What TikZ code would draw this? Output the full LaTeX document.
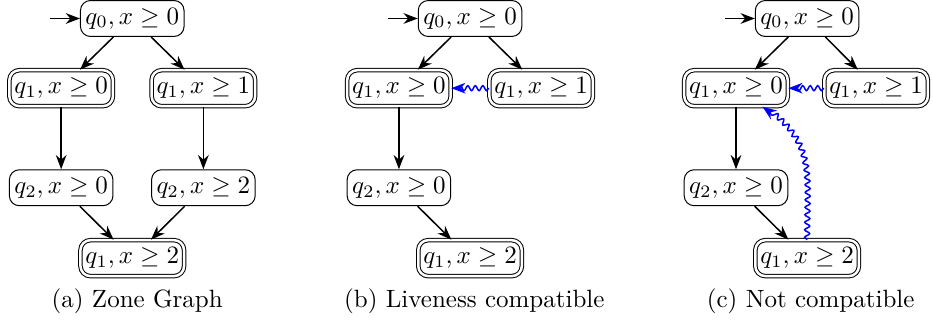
\documentclass[tikz,border=0pt]{standalone}
\usepackage{amsmath}
\usepackage{amssymb}
\usepackage{tikz}
\usetikzlibrary{arrows.meta,positioning,decorations.pathmorphing}

\begin{document}
\begin{tikzpicture}[
    state/.style={draw,rounded corners=4pt,inner xsep=2pt,inner ysep=3pt},
    final/.style={state,double,double distance=1pt},
    edge/.style={->,semithick},
    sim/.style={->,semithick,blue,decorate,decoration={snake,amplitude=1pt,segment length=3pt,post length=2.5pt}},
    >=Stealth,
]
    \useasboundingbox (0,0) rectangle (13.12,-4.53);

    % (a) zone graph
    \begin{scope}[xshift=1.86cm]
        \node[state] (a0) at (0,-0.26) {$q_0, x \geq 0$};
        \node[final] (a1) at (-1,-1.24) {$q_1, x \geq 0$};
        \node[final] (a2) at (1,-1.24) {$q_1, x \geq 1$};
        \node[state] (a3) at (-1,-2.64) {$q_2, x \geq 0$};
        \node[state] (a4) at (1,-2.64) {$q_2, x \geq 2$};
        \node[final] (a5) at (0,-3.63) {$q_1, x \geq 2$};
        \coordinate[left=12pt of a0] (ain);
        \node (acap) at (0.07,-4.23) {(a) Zone Graph};

        \draw[edge] (ain) -- (a0);
        \draw[edge] (a0) -- (a1);
        \draw[edge] (a0) -- (a2);
        \draw[edge] (a1) -- (a3);
        \draw[edge] (a2) -- (a4);
        \draw[edge] (a3) -- (a5);
        \draw[edge] (a4) -- (a5);
    \end{scope}

    % (b) liveness compatible
    \begin{scope}[xshift=6.61cm]
        \node[state] (b0) at (0,-0.26) {$q_0, x \geq 0$};
        \node[final] (b1) at (-1,-1.24) {$q_1, x \geq 0$};
        \node[final] (b2) at (1,-1.24) {$q_1, x \geq 1$};
        \node[state] (b3) at (-1,-2.64) {$q_2, x \geq 0$};
        \node[final] (b5) at (0,-3.63) {$q_1, x \geq 2$};
        \coordinate[left=12pt of b0] (bin);
        \node (bcap) at (0.06,-4.23) {(b) Liveness compatible};

        \draw[edge] (bin) -- (b0);
        \draw[edge] (b0) -- (b1);
        \draw[edge] (b0) -- (b2);
        \draw[edge] (b1) -- (b3);
        \draw[edge] (b3) -- (b5);
        \draw[sim] (b2) -- (b1);
    \end{scope}

    % (c) not compatible
    \begin{scope}[xshift=11.35cm]
        \node[state] (c0) at (0,-0.26) {$q_0, x \geq 0$};
        \node[final] (c1) at (-1,-1.24) {$q_1, x \geq 0$};
        \node[final] (c2) at (0.97,-1.24) {$q_1, x \geq 1$};
        \node[state] (c3) at (-1,-2.64) {$q_2, x \geq 0$};
        \node[final] (c5) at (0,-3.63) {$q_1, x \geq 2$};
        \coordinate[left=12pt of c0] (cin);
        \node (ccap) at (0.05,-4.23) {(c) Not compatible};

        \draw[edge] (cin) -- (c0);
        \draw[edge] (c0) -- (c1);
        \draw[edge] (c0) -- (c2);
        \draw[edge] (c1) -- (c3);
        \draw[edge] (c3) -- (c5);
        \draw[sim] (c2) -- (c1);
        \draw[sim] (c5) to[out=90,in=-35,looseness=1.2] (c1);
    \end{scope}
\end{tikzpicture}
\end{document}
